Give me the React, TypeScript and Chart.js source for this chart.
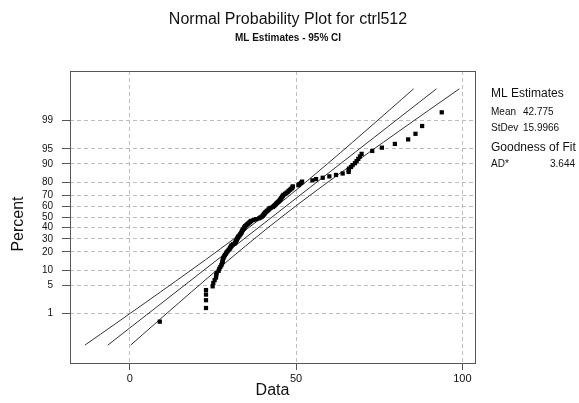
import React, { useEffect, useRef } from "react";
import { Chart, registerables } from "chart.js";

Chart.register(...registerables);

const dataValues: number[] = [
  9.0, 22.9, 22.9, 22.9, 22.9, 24.9, 25.1, 25.5, 25.9, 26.0,
  26.1, 26.7, 26.9, 27.2, 27.5, 27.7, 27.9, 27.9, 28.0, 28.2,
  28.4, 28.6, 28.9, 29.1, 29.4, 29.7, 30.0, 30.2, 30.4, 30.6,
  31.0, 31.6, 31.8, 31.9, 32.1, 32.2, 32.4, 32.5, 32.7, 33.0,
  33.2, 33.4, 33.6, 33.7, 33.8, 34.0, 34.2, 34.4, 34.5, 34.7,
  35.0, 35.3, 35.6, 35.9, 36.2, 36.5, 37.2, 38.0, 38.9, 39.3,
  39.7, 40.0, 40.2, 40.4, 40.6, 40.8, 41.1, 41.4, 41.7, 41.9,
  42.3, 43.0, 43.3, 43.6, 43.9, 44.1, 44.4, 44.7, 45.0, 45.2,
  45.4, 45.6, 45.8, 46.0, 46.2, 46.7, 47.1, 47.5, 47.8, 48.2,
  48.6, 48.9, 49.0, 50.7, 51.0, 51.5, 51.8, 54.9, 56.0, 58.0,
  60.0, 62.0, 64.0, 65.8, 65.8, 65.9, 66.5, 67.0, 67.7, 68.2,
  68.7, 69.2, 69.7, 72.9, 75.8, 79.7, 83.7, 85.9, 87.9, 93.8,
];

const mlMean = 42.775;
const mlStDev = 15.9966;
const adStat = "3.644";

const percentTicks: number[] = [1, 5, 10, 20, 30, 40, 50, 60, 70, 80, 90, 95, 99];
const xTicks: number[] = [0, 50, 100];
const lineZLimits: number[] = [-3.09, 3.09];

// inverse standard normal CDF (Acklam)
function probit(p: number): number {
  const a = [-3.969683028665376e1, 2.209460984245205e2, -2.759285104469687e2, 1.38357751867269e2, -3.066479806614716e1, 2.506628277459239];
  const b = [-5.447609879822406e1, 1.615858368580409e2, -1.556989798598866e2, 6.680131188771972e1, -1.328068155288572e1];
  const c = [-7.784894002430293e-3, -3.223964580411365e-1, -2.400758277161838, -2.549732539343734, 4.374664141464968, 2.938163982698783];
  const d = [7.784695709041462e-3, 3.224671290700398e-1, 2.445134137142996, 3.754408661907416];
  const pl = 0.02425;
  let q, r;
  if (p < pl) {
    q = Math.sqrt(-2 * Math.log(p));
    return (((((c[0] * q + c[1]) * q + c[2]) * q + c[3]) * q + c[4]) * q + c[5]) / ((((d[0] * q + d[1]) * q + d[2]) * q + d[3]) * q + 1);
  }
  if (p > 1 - pl) {
    q = Math.sqrt(-2 * Math.log(1 - p));
    return -(((((c[0] * q + c[1]) * q + c[2]) * q + c[3]) * q + c[4]) * q + c[5]) / ((((d[0] * q + d[1]) * q + d[2]) * q + d[3]) * q + 1);
  }
  q = p - 0.5;
  r = q * q;
  return ((((((a[0] * r + a[1]) * r + a[2]) * r + a[3]) * r + a[4]) * r + a[5]) * q) / (((((b[0] * r + b[1]) * r + b[2]) * r + b[3]) * r + b[4]) * r + 1);
}

export default function App() {
  const ref = useRef<HTMLCanvasElement | null>(null);

  useEffect(() => {
    document.body.style.margin = "0";
    const canvas = ref.current;
    if (!canvas) return;
    const n = dataValues.length;
    // median-rank plotting positions
    const pts = dataValues.map((x, i) => ({ x, y: probit((i + 1 - 0.3) / (n + 0.4)) }));
    const fit = lineZLimits.map((z) => ({ x: mlMean + z * mlStDev, y: z }));
    const zs: number[] = [];
    for (let k = 0; k <= 24; k++) zs.push(lineZLimits[0] + (k * (lineZLimits[1] - lineZLimits[0])) / 24);
    const half = (z: number) => 1.96 * mlStDev * Math.sqrt(1 / n + (z * z) / (2 * n));
    const lo = zs.map((z) => ({ x: mlMean + z * mlStDev - half(z), y: z }));
    const hi = zs.map((z) => ({ x: mlMean + z * mlStDev + half(z), y: z }));

    const FONT = "'Liberation Sans', Arial, sans-serif";

    const textPlugin = {
      id: "texts",
      afterDraw(chart: any) {
        const ctx = chart.ctx;
        const a = chart.chartArea;
        ctx.save();
        // frame
        ctx.strokeStyle = "#555";
        ctx.lineWidth = 1;
        ctx.strokeRect(Math.round(a.left) + 0.5, Math.round(a.top) + 0.5, Math.round(a.right - a.left), Math.round(a.bottom - a.top));
        ctx.fillStyle = "#111";
        ctx.textBaseline = "middle";
        ctx.textAlign = "center";
        ctx.font = `16px ${FONT}`;
        ctx.fillText("Normal Probability Plot for ctrl512", 288, 20);
        ctx.font = `bold 10px ${FONT}`;
        ctx.fillText("ML Estimates - 95% CI", 288, 38);
        ctx.font = `16px ${FONT}`;
        ctx.fillText("Data", (a.left + a.right) / 2, 391);
        ctx.save();
        ctx.translate(19, 224);
        ctx.rotate(-Math.PI / 2);
        ctx.fillText("Percent", 0, 0);
        ctx.restore();
        ctx.textAlign = "left";
        ctx.font = `12px ${FONT}`;
        ctx.fillText("ML Estimates", 491, 94);
        ctx.font = `10px ${FONT}`;
        ctx.fillText("Mean", 491, 112);
        ctx.fillText(mlMean.toFixed(3), 523, 112);
        ctx.fillText("StDev", 491, 128);
        ctx.fillText(mlStDev.toFixed(4), 523, 128);
        ctx.font = `12px ${FONT}`;
        ctx.fillText("Goodness of Fit", 491, 148);
        ctx.font = `10px ${FONT}`;
        ctx.fillText("AD*", 491, 164);
        ctx.fillText(adStat, 550, 164);
        ctx.restore();
      },
    };

    const lineDs = (data: any[]) => ({
      type: "line" as const,
      data,
      borderColor: "#333",
      borderWidth: 1,
      pointRadius: 0,
      fill: false,
      tension: 0,
      order: 2,
    });

    const chart = new Chart(canvas, {
      type: "scatter",
      data: {
        datasets: [
          {
            type: "scatter",
            data: pts,
            pointStyle: "rect",
            pointRadius: 3,
            backgroundColor: "#000",
            borderColor: "#000",
            borderWidth: 0,
            order: 1,
          } as any,
          lineDs(fit),
          lineDs(lo),
          lineDs(hi),
        ],
      },
      options: {
        responsive: false,
        animation: false,
        devicePixelRatio: 1,
        layout: { padding: { top: 71, right: 104, left: 0, bottom: 0 } },
        plugins: { legend: { display: false }, tooltip: { enabled: false } },
        scales: {
          x: {
            type: "linear",
            min: -18,
            max: 103.8,
            afterFit: (s: any) => { s.height = 40; },
            afterBuildTicks: (s: any) => { s.ticks = xTicks.map((v) => ({ value: v })); },
            ticks: { color: "#111", font: { family: FONT, size: 11 }, padding: 2, callback: (v: any) => String(v) },
            grid: { color: "#bdbdbd", tickColor: "#555", tickLength: 7, lineWidth: 1 },
            border: { display: false, dash: [4, 3] },
          },
          y: {
            type: "linear",
            min: -3.52,
            max: 3.52,
            afterFit: (s: any) => { s.width = 70; },
            afterBuildTicks: (s: any) => { s.ticks = percentTicks.map((p) => ({ value: probit(p / 100) })); },
            ticks: {
              color: "#111",
              font: { family: FONT, size: 10 },
              padding: 9,
              callback: (_v: any, i: number) => String(percentTicks[i]),
            },
            grid: { color: "#bdbdbd", tickColor: "#555", tickLength: 8, lineWidth: 1 },
            border: { display: false, dash: [4, 3] },
          },
        },
      } as any,
      plugins: [textPlugin],
    });
    return () => chart.destroy();
  }, []);

  return (
    <div style={{ width: 579, height: 403, background: "#fff" }}>
      <canvas ref={ref} width={579} height={403} style={{ display: "block" }} />
    </div>
  );
}
